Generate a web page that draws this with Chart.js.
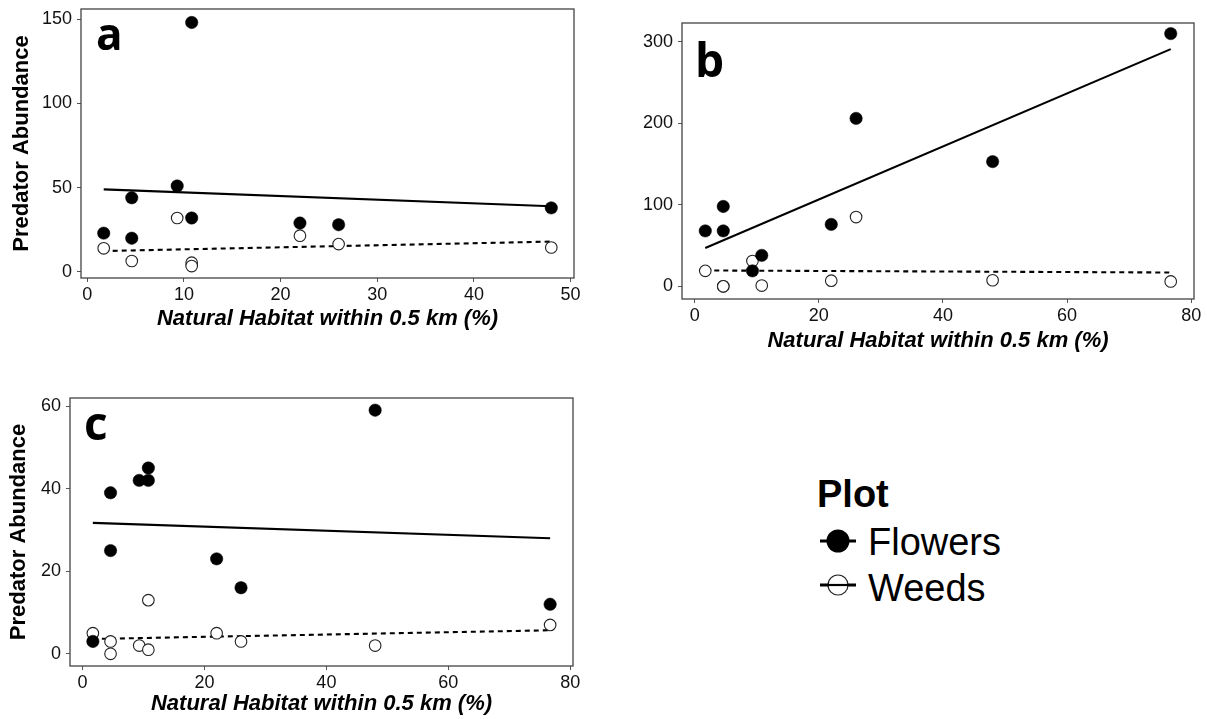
<!DOCTYPE html>
<html>
<head>
<meta charset="utf-8">
<script src="https://cdn.jsdelivr.net/npm/chart.js@4.4.1/dist/chart.umd.min.js"></script>
<style>
  html, body { margin: 0; padding: 0; background: #fff; }
  body { width: 1207px; height: 719px; position: relative; overflow: hidden; font-family: "Liberation Sans", Arial, sans-serif; }
  canvas { position: absolute; }
  .lg { position: absolute; color: #000; white-space: nowrap; }
</style>
</head>
<body>
<canvas id="pa" width="590" height="340" style="left:0px;top:0px;width:590px;height:340px"></canvas>
<canvas id="pb" width="607" height="360" style="left:600px;top:0px;width:607px;height:360px"></canvas>
<canvas id="pc" width="590" height="339" style="left:0px;top:380px;width:590px;height:339px"></canvas>

<div class="lg" style="left:817px;top:475px;font-size:38px;line-height:38px;font-weight:bold;">Plot</div>
<svg style="position:absolute;left:810px;top:520px" width="60" height="90">
  <line x1="10" y1="21" x2="46" y2="21" stroke="#000" stroke-width="3"/>
  <circle cx="28" cy="21" r="11.5" fill="#000"/>
  <line x1="10" y1="65" x2="46" y2="65" stroke="#000" stroke-width="3"/>
  <circle cx="28" cy="65" r="10" fill="#fff" stroke="#222" stroke-width="1.2"/>
  <line x1="17" y1="65" x2="39" y2="65" stroke="#000" stroke-width="2.2"/>
</svg>
<div class="lg" style="left:868px;top:523px;font-size:38px;line-height:38px;">Flowers</div>
<div class="lg" style="left:868px;top:569px;font-size:38px;line-height:38px;">Weeds</div>

<script>
// ---------------- DATA ----------------
const xTitle = "Natural Habitat within 0.5 km (%)";
const yTitle = "Predator Abundance";

// Panel a
const aFlowersX = [1.7, 4.6, 4.6, 9.3, 10.8, 10.8, 22, 26, 48];
const aFlowersY = [23, 44, 20, 51, 148, 32, 29, 28, 38];
const aWeedsX   = [1.7, 4.6, 9.3, 10.8, 10.8, 22, 26, 48];
const aWeedsY   = [14, 6.5, 32, 5.5, 3.5, 21.5, 16.5, 14.5];
const aFitX     = [1.7, 48];
const aFlowersFit = [49, 39];
const aWeedsFit   = [12.4, 18];
const aXTicks = [0, 10, 20, 30, 40, 50];
const aYTicks = [0, 50, 100, 150];

// Panel b
const bFlowersX = [1.7, 4.6, 4.6, 9.3, 10.8, 22, 26, 48, 76.7];
const bFlowersY = [68, 98, 68, 19, 38, 76, 206, 153, 310];
const bWeedsX   = [1.7, 4.6, 4.6, 9.3, 10.8, 22, 26, 48, 76.7];
const bWeedsY   = [19, 0, 0, 31, 1, 7, 85, 7.5, 6];
const bFitX     = [1.7, 76.7];
const bFlowersFit = [47, 291];
const bWeedsFit   = [19.5, 17];
const bXTicks = [0, 20, 40, 60, 80];
const bYTicks = [0, 100, 200, 300];

// Panel c
const cFlowersX = [1.7, 4.6, 4.6, 9.3, 10.8, 10.8, 22, 26, 48, 76.7];
const cFlowersY = [3, 39, 25, 42, 45, 42, 23, 16, 59, 12];
const cWeedsX   = [1.7, 4.6, 4.6, 9.3, 10.8, 10.8, 22, 26, 48, 76.7];
const cWeedsY   = [5, 3, 0, 2, 13, 1, 5, 3, 2, 7];
const cFitX     = [1.7, 76.7];
const cFlowersFit = [31.7, 28];
const cWeedsFit   = [3.6, 5.7];
const cXTicks = [0, 20, 40, 60, 80];
const cYTicks = [0, 20, 40, 60];

// ---------------- DRAWING ----------------
Chart.defaults.font.family = '"Liberation Sans", Arial, sans-serif';
Chart.defaults.color = '#111';

const pts = (xs, ys) => xs.map((x, i) => ({ x: x, y: ys[i] }));

const framePlugin = {
  id: 'frame',
  afterDatasetsDraw(chart, args, opts) {
    const { left, top, right, bottom } = chart.chartArea;
    const ctx = chart.ctx;
    ctx.save();
    ctx.strokeStyle = '#444';
    ctx.lineWidth = 1.3;
    ctx.strokeRect(left, top, right - left, bottom - top);
    ctx.fillStyle = '#000';
    ctx.font = 'bold ' + opts.size + 'px "Open Sans", "Noto Sans", sans-serif';
    ctx.textBaseline = 'alphabetic';
    ctx.textAlign = 'left';
    ctx.fillText(opts.letter, left + opts.dx, top + opts.dy);
    ctx.restore();
  }
};

function makePanel(id, p) {
  const ctx = document.getElementById(id);
  return new Chart(ctx, {
    type: 'scatter',
    data: {
      datasets: [
        { label: 'Flowers', data: pts(p.fx, p.fy), pointRadius: 6.2, pointBackgroundColor: '#000', pointBorderColor: '#000', pointBorderWidth: 0.5, showLine: false },
        { label: 'Weeds', data: pts(p.wx, p.wy), pointRadius: 5.8, pointBackgroundColor: '#fff', pointBorderColor: '#222', pointBorderWidth: 1.1, showLine: false },
        { label: 'Flowers fit', data: pts(p.fitX, p.fFit), showLine: true, pointRadius: 0, borderColor: '#000', borderWidth: 2.1, fill: false },
        { label: 'Weeds fit', data: pts(p.fitX, p.wFit), showLine: true, pointRadius: 0, borderColor: '#000', borderWidth: 2.1, borderDash: [5, 4], fill: false }
      ]
    },
    options: {
      responsive: false,
      animation: false,
      devicePixelRatio: 1,
      events: [],
      layout: { padding: { top: p.padTop, right: p.padRight, left: 0, bottom: 0 } },
      plugins: {
        legend: { display: false },
        tooltip: { enabled: false },
        frame: { letter: p.letter, dx: p.ldx, dy: p.ldy, size: p.lsize }
      },
      scales: {
        x: {
          type: 'linear', min: p.xmin, max: p.xmax,
          afterBuildTicks: s => { s.ticks = p.xTicks.map(v => ({ value: v })); },
          afterFit: s => { s.height = p.xH; s.paddingLeft = 0; s.paddingRight = 0; },
          grid: { display: true, drawOnChartArea: false, drawTicks: true, tickLength: 4, tickColor: '#555', tickWidth: 1 },
          border: { display: false },
          ticks: { font: { size: 18 }, color: '#111', padding: 2, maxRotation: 0, autoSkip: false, callback: v => String(v) },
          title: { display: true, text: xTitle, color: '#000', font: { size: 22, weight: 'bold', style: 'italic', lineHeight: 1 }, padding: { top: 0, bottom: p.xTitlePad } }
        },
        y: {
          type: 'linear', min: p.ymin, max: p.ymax,
          afterBuildTicks: s => { s.ticks = p.yTicks.map(v => ({ value: v })); },
          afterFit: s => { s.width = p.yW; s.paddingTop = 0; s.paddingBottom = 0; },
          grid: { display: true, drawOnChartArea: false, drawTicks: true, tickLength: 4, tickColor: '#555', tickWidth: 1 },
          border: { display: false },
          ticks: { font: { size: 18 }, color: '#111', padding: 5, autoSkip: false, callback: v => String(v) },
          title: { display: p.yTitleShow, text: yTitle, color: '#000', font: { size: 22, weight: 'bold', lineHeight: 1 }, padding: { top: p.yTitlePad, bottom: 0 } }
        }
      }
    },
    plugins: [framePlugin]
  });
}

makePanel('pa', {
  fx: aFlowersX, fy: aFlowersY, wx: aWeedsX, wy: aWeedsY, fitX: aFitX, fFit: aFlowersFit, wFit: aWeedsFit,
  xTicks: aXTicks, yTicks: aYTicks, xmin: -0.65, xmax: 50.35, ymin: -3.6, ymax: 156,
  padTop: 9, padRight: 16, yW: 81, xH: 62, xTitlePad: 9.6, yTitleShow: true, yTitlePad: 11.4,
  letter: 'a', ldx: 15, ldy: 41, lsize: 44
});
makePanel('pb', {
  fx: bFlowersX, fy: bFlowersY, wx: bWeedsX, wy: bWeedsY, fitX: bFitX, fFit: bFlowersFit, wFit: bWeedsFit,
  xTicks: bXTicks, yTicks: bYTicks, xmin: -2.05, xmax: 80.45, ymin: -15.5, ymax: 323,
  padTop: 23, padRight: 13, yW: 82, xH: 61, xTitlePad: 7.6, yTitleShow: false, yTitlePad: 0,
  letter: 'b', ldx: 13, ldy: 54, lsize: 46
});
makePanel('pc', {
  fx: cFlowersX, fy: cFlowersY, wx: cWeedsX, wy: cWeedsY, fitX: cFitX, fFit: cFlowersFit, wFit: cWeedsFit,
  xTicks: cXTicks, yTicks: cYTicks, xmin: -2.05, xmax: 80.45, ymin: -2.95, ymax: 61.95,
  padTop: 18, padRight: 17, yW: 70, xH: 53, xTitlePad: 3.6, yTitleShow: true, yTitlePad: 8.4,
  letter: 'c', ldx: 14, ldy: 42, lsize: 46
});
</script>
</body>
</html>
